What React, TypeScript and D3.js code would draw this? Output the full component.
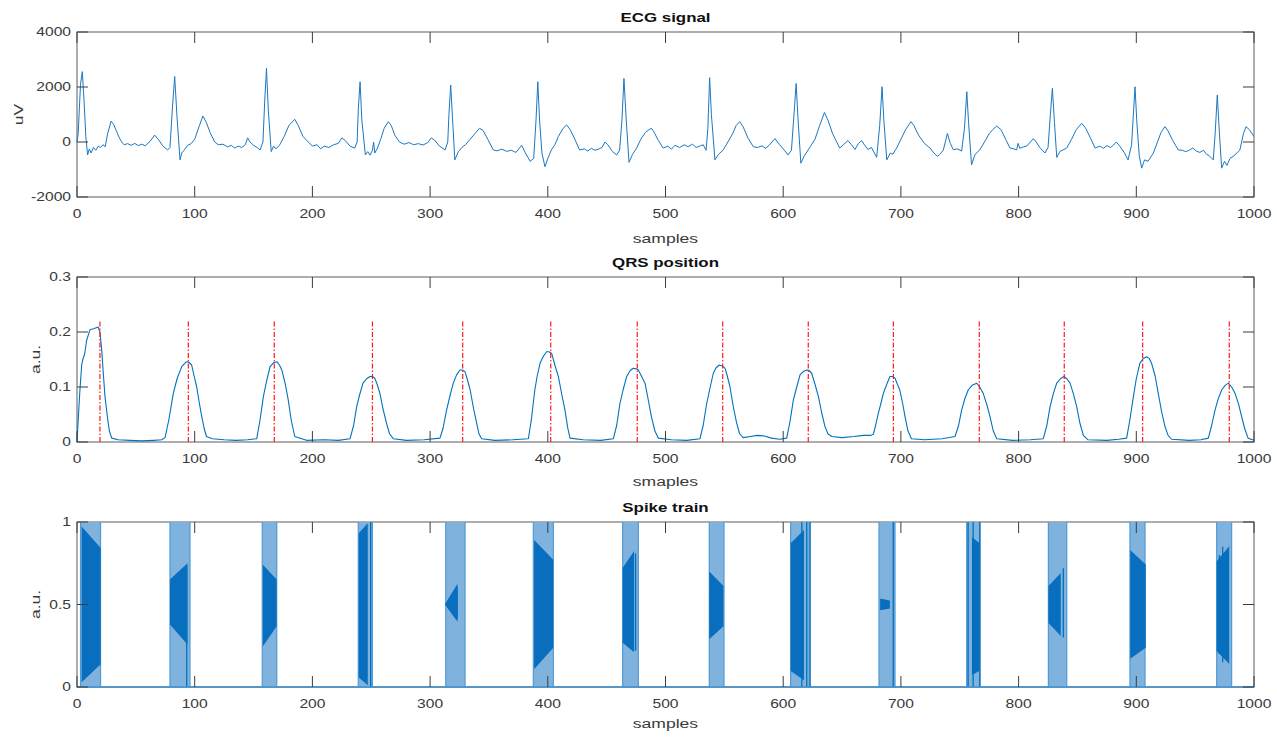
import { useEffect, useRef } from 'react';
import * as d3 from 'd3';

// samples axis shared by all three panels
const sampleTicks = [0, 100, 200, 300, 400, 500, 600, 700, 800, 900, 1000];
const ecgTicks = [-2000, 0, 2000, 4000];
const qrsTicks = [0, 0.1, 0.2, 0.3];
const spikeTicks = [0, 0.5, 1];

// ECG trace, [sample, uV]
const ecgPoints: [number, number][] = [
  [0, 0], [1, 300], [2, 1200], [3, 2100], [4.5, 2560], [6, 1500], [7.5, 200], [9, -470], [10.5, -250], [12, -400],
  [14, -200], [16, -300], [18, -150], [20, -200], [22, -100], [24, -170], [26, 300], [29, 760], [31, 650], [34, 350],
  [36, 150], [38, 0], [40, -100], [43, -60], [46, -120], [49, -50], [52, -130], [55, -80], [58, -140], [62, 20],
  [66, 250], [69, 100], [73, -150], [77, -290], [79, -200], [81, 1200], [83, 2380], [85, 900], [87.5, -650], [89, -400],
  [91, -300], [94, -120], [97, -60], [100, 100], [104, 600], [107, 945], [110, 700], [113, 350], [117, 0], [120, -100],
  [124, -80], [128, -180], [131, -120], [134, -220], [137, -150], [140, -200], [143, -100], [145, 150], [147, 0], [150, -120],
  [153, -200], [155.5, -290], [158, 0], [159.5, 1500], [161, 2680], [162.5, 1200], [165, -350], [167, -150], [169, -250], [172, -120],
  [176, 200], [180, 600], [185, 825], [188, 600], [192, 200], [196.5, 0], [200, -150], [204, -100], [207, -250], [210, -150],
  [214, -200], [218, -100], [222, -50], [225, 150], [228, 50], [232, -150], [236, -220], [238, 0], [239, 1200], [240.5, 2190],
  [242, 800], [245, -470], [247, -350], [249, -480], [251, -300], [252, 0], [253, -400], [255, -250], [258, 100], [261, 500],
  [264.5, 740], [267, 600], [270, 250], [274, 0], [278, -80], [282, -20], [286, -100], [290, -60], [294, -110], [298, -20],
  [301, 150], [304, 60], [308, -150], [312.7, -290], [315, 0], [316, 1000], [317.5, 2070], [319, 900], [321, -650], [324, -350],
  [327, -200], [330, -100], [334, 100], [338, 300], [342, 500], [345, 420], [349, 100], [353.7, -290], [357, -320], [361, -260],
  [365, -340], [369, -300], [373, -380], [377.8, -120], [381, -400], [385, -700], [388, -600], [390, 800], [391.5, 2190], [393, 800],
  [395, -400], [397.6, -900], [400, -600], [403, -290], [406, -100], [409, 200], [413, 500], [416, 620], [419, 450], [423, 100],
  [427, -290], [431, -250], [434, -330], [437, -230], [440, -300], [443, -260], [446, -200], [448.6, 0], [451, -100], [455, -350],
  [458.5, -470], [461, -300], [463, 800], [464.7, 2310], [466.5, 900], [469, -740], [472, -450], [475.5, -220], [479, 100], [483, 350],
  [486, 450], [488, 500], [490, 380], [494, 50], [498, -220], [502, -150], [505, -260], [508, -120], [512, -200], [516, -100],
  [519, -170], [523, -80], [526, -200], [529, -150], [532, -100], [534.5, -300], [536, 500], [537.5, 2340], [539, 1000], [542, -650],
  [545, -450], [549, -290], [553, 0], [557, 300], [560, 600], [563, 740], [566, 550], [570, 150], [574.6, -170], [578, -200],
  [582, -140], [585, -230], [588, -120], [593, 120], [597, -100], [601, -300], [604, -470], [607, -300], [609, 900], [611, 2130],
  [612.5, 900], [615, -770], [618, -500], [623, -170], [627, 100], [631, 600], [635, 1070], [638, 800], [642, 300], [648, -220],
  [651, -100], [655, 50], [658, -100], [661, -270], [664, -50], [666.7, 50], [669, -100], [672, -270], [675, -200], [679.4, -560],
  [682, 600], [684, 2010], [685.5, 800], [688, -650], [691, -400], [693, -450], [696.4, -220], [700, 100], [704, 450], [708.6, 740],
  [711, 600], [715, 250], [720, -50], [724.7, -220], [728, -400], [731, -520], [733, -450], [736, -300], [739.5, 310], [742, -50],
  [744.5, -280], [748, -250], [751.6, -330], [754, 500], [756, 1830], [757.5, 700], [760, -830], [763, -450], [767, -290], [771, 0],
  [775, 300], [778, 450], [781.4, 580], [785, 450], [789, 100], [792.7, -220], [796, -250], [798.4, -290], [799.5, -50], [801, -230],
  [804, -180], [806.9, -150], [810, 0], [812.5, 120], [815, 0], [818, -200], [822.4, -400], [825, -200], [827, 1000], [828.7, 1950],
  [830.5, 700], [832.4, -560], [835, -350], [840.9, -220], [845, 100], [849, 450], [853.6, 680], [857, 500], [861, 150], [865, -220],
  [869, -150], [872, -230], [875, -130], [878, -200], [880.5, -120], [883, 0], [886, -150], [890, -400], [893, -650], [896, -100],
  [898.9, 2010], [900.5, 700], [902.5, -500], [904.6, -950], [907, -650], [910, -700], [914.5, -400], [918, 0], [921, 350], [924.4, 560],
  [927, 400], [931, 50], [935.7, -290], [939, -300], [942, -350], [945, -300], [948, -220], [951, -330], [954, -380], [957, -300],
  [959.8, -450], [962, -500], [965.4, -650], [967, 300], [968.8, 1710], [970.5, 400], [972.5, -950], [975, -700], [977, -850], [979.6, -600],
  [983, -500], [988, -290], [991, 300], [993.2, 560], [996, 450], [1000, 200],
];

// QRS detector output, [sample, a.u.]
const qrsPoints: [number, number][] = [
  [0, 0], [1, 0.04], [2.5, 0.095], [4, 0.14], [4.8, 0.149], [6.5, 0.16], [8.2, 0.185], [11, 0.204], [14, 0.206], [18, 0.209],
  [19.5, 0.2], [21, 0.167], [22.5, 0.12], [23.8, 0.082], [25.8, 0.046], [27.5, 0.02], [29.5, 0.007], [35, 0.004], [45, 0.003], [55, 0.002],
  [65, 0.003], [72, 0.004], [74.8, 0.008], [78, 0.04], [81.8, 0.088], [85, 0.115], [89, 0.137], [93, 0.146], [95, 0.145], [97.4, 0.14],
  [99.5, 0.12], [101.7, 0.1], [104, 0.07], [106, 0.046], [108, 0.025], [110, 0.01], [115, 0.006], [125, 0.004], [135, 0.003], [145, 0.004],
  [152.7, 0.006], [155.5, 0.04], [158.3, 0.082], [161, 0.11], [164, 0.137], [167, 0.144], [169.7, 0.146], [172, 0.14], [174, 0.131], [177, 0.105],
  [179.5, 0.076], [182, 0.04], [185, 0.01], [195, 0.003], [210, 0.004], [222, 0.003], [232, 0.006], [235, 0.03], [237.6, 0.064], [240, 0.085],
  [243, 0.107], [246, 0.115], [249, 0.119], [251, 0.119], [253, 0.116], [255, 0.105], [257.4, 0.088], [260, 0.06], [263, 0.034], [265.5, 0.015],
  [268.7, 0.006], [280, 0.003], [295, 0.004], [308.4, 0.007], [311, 0.025], [314, 0.058], [317, 0.085], [319.7, 0.107], [322.5, 0.122], [325.4, 0.131],
  [327.5, 0.131], [329.6, 0.128], [331.5, 0.115], [334, 0.095], [337, 0.06], [339.6, 0.034], [341.5, 0.015], [343.8, 0.006], [355, 0.003], [370, 0.004],
  [383.5, 0.006], [386, 0.04], [389, 0.095], [391, 0.12], [393.4, 0.143], [396, 0.155], [399, 0.164], [401, 0.164], [403.3, 0.161], [406, 0.14],
  [409, 0.119], [412, 0.085], [414.6, 0.058], [417, 0.025], [418.9, 0.007], [430, 0.004], [445, 0.003], [455.7, 0.006], [458.5, 0.03], [461.3, 0.07],
  [464, 0.095], [467, 0.119], [470, 0.13], [472.6, 0.134], [475, 0.133], [476.9, 0.131], [479.5, 0.12], [482.6, 0.107], [485.5, 0.075], [488, 0.046],
  [491, 0.02], [493.9, 0.007], [505, 0.004], [518, 0.003], [529.3, 0.006], [532, 0.03], [535, 0.07], [538, 0.1], [540.6, 0.125], [543, 0.135],
  [545.7, 0.14], [548.5, 0.138], [550.6, 0.134], [552.5, 0.12], [554.8, 0.1], [557.5, 0.065], [560.5, 0.034], [563, 0.015], [566, 0.008], [572, 0.01],
  [578, 0.012], [584, 0.011], [590, 0.007], [597, 0.005], [603, 0.007], [606, 0.04], [608.6, 0.076], [611.5, 0.1], [614.3, 0.122], [617, 0.128],
  [620, 0.131], [622, 0.13], [624.2, 0.125], [627, 0.105], [630, 0.082], [632.5, 0.055], [635.5, 0.028], [638, 0.015], [641.2, 0.01], [650, 0.008],
  [660, 0.01], [668, 0.012], [674, 0.012], [676.6, 0.014], [678.5, 0.03], [680.8, 0.052], [683, 0.07], [685, 0.088], [688, 0.105], [690.7, 0.119],
  [693, 0.119], [695, 0.116], [697, 0.105], [699, 0.095], [701.5, 0.07], [703.5, 0.046], [706, 0.02], [709, 0.006], [720, 0.004], [735, 0.006],
  [746, 0.01], [749, 0.03], [751.6, 0.058], [754.5, 0.08], [757.3, 0.095], [760.5, 0.103], [764.4, 0.107], [767, 0.1], [770, 0.088], [773, 0.068],
  [775.7, 0.046], [778.5, 0.02], [781.4, 0.006], [795, 0.003], [810, 0.004], [821, 0.006], [824, 0.03], [826.7, 0.064], [829.5, 0.088], [832.4, 0.107],
  [835.5, 0.115], [838.6, 0.119], [841, 0.115], [843.7, 0.107], [846.5, 0.088], [849.4, 0.064], [852, 0.035], [855, 0.012], [859, 0.004], [875, 0.003],
  [885, 0.005], [891.8, 0.007], [894.5, 0.04], [897.5, 0.082], [900, 0.115], [903, 0.143], [906, 0.152], [908.8, 0.155], [911, 0.152], [913, 0.143],
  [916, 0.12], [918.7, 0.088], [921.5, 0.055], [924.4, 0.028], [927, 0.012], [930, 0.005], [945, 0.003], [955, 0.004], [961.2, 0.007], [964, 0.03],
  [966.9, 0.058], [969.5, 0.078], [972.6, 0.095], [975.5, 0.103], [978.2, 0.107], [981, 0.1], [984, 0.088], [987, 0.068], [989.5, 0.046], [992, 0.025],
  [995, 0.007], [1000, 0.003],
];

// detected QRS positions (red markers) and their height
const qrsMarks = [19.5, 94.6, 167.6, 251, 327.7, 402.5, 476, 548.6, 621.3, 693.6, 766.6, 838.8, 905.4, 979];
const qrsMarkHeight = 0.22;

// spike bursts: [first sample, last sample]
const spikeBands: [number, number][] = [
  [3, 20], [79, 96], [157.4, 169.7], [239, 251], [313.3, 329.7], [387.7, 404.7], [463.6, 476.9],
  [537.2, 549.7], [606.3, 622.2], [681.4, 695], [755.9, 767.2], [825.3, 840.9], [894.6, 907.4], [968.3, 981],
];
// dense core of each burst: [s0, top0, bottom0, s1, top1, bottom1]
const spikeCores: number[][] = [
  [4.6, 0.96, 0.04, 19.5, 0.84, 0.14], [79.6, 0.65, 0.38, 93.2, 0.74, 0.27], [158.5, 0.73, 0.26, 169, 0.65, 0.37],
  [240, 0.93, 0.06, 246.4, 0.98, 0.02], [313.3, 0.5, 0.5, 322.6, 0.61, 0.41], [389, 0.88, 0.12, 404, 0.77, 0.24],
  [464.2, 0.72, 0.27, 472.7, 0.81, 0.22], [537.8, 0.69, 0.3, 548.6, 0.61, 0.37], [607, 0.87, 0.1, 617, 0.94, 0.05],
  [683, 0.53, 0.47, 690, 0.52, 0.48], [761, 0.9, 0.08, 766, 0.87, 0.1], [826, 0.61, 0.39, 835.2, 0.68, 0.32],
  [895.5, 0.82, 0.18, 907.4, 0.74, 0.24], [968.9, 0.76, 0.22, 978.3, 0.84, 0.15],
];
// single spikes drawn darker: [sample, low, high]
const spikeLines: [number, number, number][] = [
  [93.2, 0, 0.74], [249.5, 0, 1], [323, 0.41, 0.61], [474.6, 0.22, 0.81], [615.8, 0, 1], [620, 0, 1], [622.9, 0, 1],
  [693.5, 0, 1], [757.1, 0, 1], [761.4, 0, 1], [767, 0, 1], [838, 0.3, 0.72], [970.6, 0.2, 0.8], [973.4, 0.15, 0.85], [976.3, 0.2, 0.82],
];

const W = 1277;
const H = 740;
const X0 = 77;
const X1 = 1254;
const SX = 1.3; // the whole figure is stretched sideways, text included
const FONT = "'Liberation Sans', Arial, Helvetica, sans-serif";
const INK = '#3a3a3a';
const BLUE = '#0072bd';

interface Panel {
  top: number;
  bottom: number;
  domain: [number, number];
  ticks: number[];
  title: string;
  xlabel: string;
  xlabelY: number;
  ylabel: string;
  ylabelX: number;
}

const panels: Panel[] = [
  { top: 32, bottom: 197, domain: [-2000, 4000], ticks: ecgTicks, title: 'ECG signal', xlabel: 'samples', xlabelY: 243, ylabel: 'uV', ylabelX: 23 },
  { top: 277, bottom: 442, domain: [0, 0.3], ticks: qrsTicks, title: 'QRS position', xlabel: 'smaples', xlabelY: 486, ylabel: 'a.u.', ylabelX: 40 },
  { top: 522, bottom: 687, domain: [0, 1], ticks: spikeTicks, title: 'Spike train', xlabel: 'samples', xlabelY: 728, ylabel: 'a.u.', ylabelX: 40 },
];

export default function App() {
  const svgRef = useRef<SVGSVGElement>(null);

  useEffect(() => {
    if (!svgRef.current) return;
    const svg = d3.select(svgRef.current);
    svg.selectAll('*').remove();

    const x = d3.scaleLinear().domain([0, 1000]).range([X0, X1]);
    const tickLen = 11;

    const label = (g: any, tx: number, ty: number, str: string, size: number, anchor: string, weight = 'normal', rot = 0) =>
      g.append('text')
        .attr('transform', `translate(${tx},${ty})${rot ? ` rotate(${rot})` : ''} scale(${SX},1)`)
        .attr('text-anchor', anchor)
        .attr('font-family', FONT)
        .attr('font-size', size)
        .attr('font-weight', weight)
        .attr('fill', weight === 'bold' ? '#111' : INK)
        .text(str);

    const ys = panels.map(p => d3.scaleLinear().domain(p.domain).range([p.bottom, p.top]));

    panels.forEach((p, i) => {
      const g = svg.append('g');
      g.append('rect')
        .attr('x', X0).attr('y', p.top)
        .attr('width', X1 - X0).attr('height', p.bottom - p.top)
        .attr('fill', '#fff')
        .attr('stroke', '#5c5c5c')
        .attr('stroke-width', 1);
      label(g, (X0 + X1) / 2, p.top - 10, p.title, 13, 'middle', 'bold');
      label(g, (X0 + X1) / 2, p.xlabelY, p.xlabel, 13.5, 'middle');
      label(g, p.ylabelX, (p.top + p.bottom) / 2, p.ylabel, 13.5, 'middle', 'normal', -90);
      sampleTicks.forEach(t => label(g, x(t), p.bottom + 21, String(t), 12, 'middle'));
      p.ticks.forEach(t => label(g, 71, ys[i](t) + 4, String(t), 12, 'end'));
    });

    // ECG
    const ecgY = ys[0];
    svg.append('path')
      .datum(ecgPoints)
      .attr('d', d3.line<[number, number]>().x(d => x(d[0])).y(d => ecgY(d[1])))
      .attr('fill', 'none')
      .attr('stroke', '#1a78c2')
      .attr('stroke-width', 1)
      .attr('stroke-linejoin', 'round');

    // QRS
    const qrsY = ys[1];
    svg.append('path')
      .datum(qrsPoints)
      .attr('d', d3.line<[number, number]>().x(d => x(d[0])).y(d => qrsY(d[1])))
      .attr('fill', 'none')
      .attr('stroke', BLUE)
      .attr('stroke-width', 1.1)
      .attr('stroke-linejoin', 'round');
    svg.append('g').selectAll('line')
      .data(qrsMarks)
      .join('line')
      .attr('x1', d => x(d)).attr('x2', d => x(d))
      .attr('y1', qrsY(0)).attr('y2', qrsY(qrsMarkHeight))
      .attr('stroke', '#ff1a1a')
      .attr('stroke-width', 1.2)
      .attr('stroke-dasharray', '5,2,1.5,2');

    // spike train
    const spY = ys[2];
    const sg = svg.append('g');
    sg.selectAll('rect.band')
      .data(spikeBands)
      .join('rect')
      .attr('class', 'band')
      .attr('x', d => x(d[0]))
      .attr('width', d => x(d[1]) - x(d[0]))
      .attr('y', spY(1))
      .attr('height', spY(0) - spY(1))
      .attr('fill', '#7fb3de');
    sg.selectAll('line.edge')
      .data(spikeBands.flatMap(d => [d[0], d[1]]))
      .join('line')
      .attr('class', 'edge')
      .attr('x1', d => x(d)).attr('x2', d => x(d))
      .attr('y1', spY(0)).attr('y2', spY(1))
      .attr('stroke', '#4f9ad4')
      .attr('stroke-width', 1.2);
    sg.selectAll('path.core')
      .data(spikeCores)
      .join('path')
      .attr('class', 'core')
      .attr('d', d => `M${x(d[0])},${spY(d[1])}L${x(d[3])},${spY(d[4])}L${x(d[3])},${spY(d[5])}L${x(d[0])},${spY(d[2])}Z`)
      .attr('fill', '#0a6ebf')
      .attr('stroke', '#0a6ebf')
      .attr('stroke-width', 1.5);
    sg.selectAll('line.spike')
      .data(spikeLines)
      .join('line')
      .attr('class', 'spike')
      .attr('x1', d => x(d[0])).attr('x2', d => x(d[0]))
      .attr('y1', d => spY(d[1])).attr('y2', d => spY(d[2]))
      .attr('stroke', BLUE)
      .attr('stroke-width', 1.3);
    sg.append('line')
      .attr('x1', X0).attr('x2', X1)
      .attr('y1', spY(0)).attr('y2', spY(0))
      .attr('stroke', '#3a8fd0')
      .attr('stroke-width', 1.5);

    // inward ticks on all four sides, drawn over the data
    panels.forEach((p, i) => {
      const g = svg.append('g').attr('stroke', '#3c3c3c').attr('stroke-width', 1);
      sampleTicks.forEach(t => {
        g.append('line').attr('x1', x(t)).attr('x2', x(t)).attr('y1', p.bottom).attr('y2', p.bottom - tickLen);
        g.append('line').attr('x1', x(t)).attr('x2', x(t)).attr('y1', p.top).attr('y2', p.top + tickLen);
      });
      p.ticks.forEach(t => {
        const yy = ys[i](t);
        g.append('line').attr('x1', X0).attr('x2', X0 + tickLen).attr('y1', yy).attr('y2', yy);
        g.append('line').attr('x1', X1).attr('x2', X1 - tickLen).attr('y1', yy).attr('y2', yy);
      });
    });
  }, []);

  return (
    <svg
      ref={svgRef}
      width={W}
      height={H}
      style={{ position: 'absolute', left: 0, top: 0, background: '#fff' }}
    />
  );
}
